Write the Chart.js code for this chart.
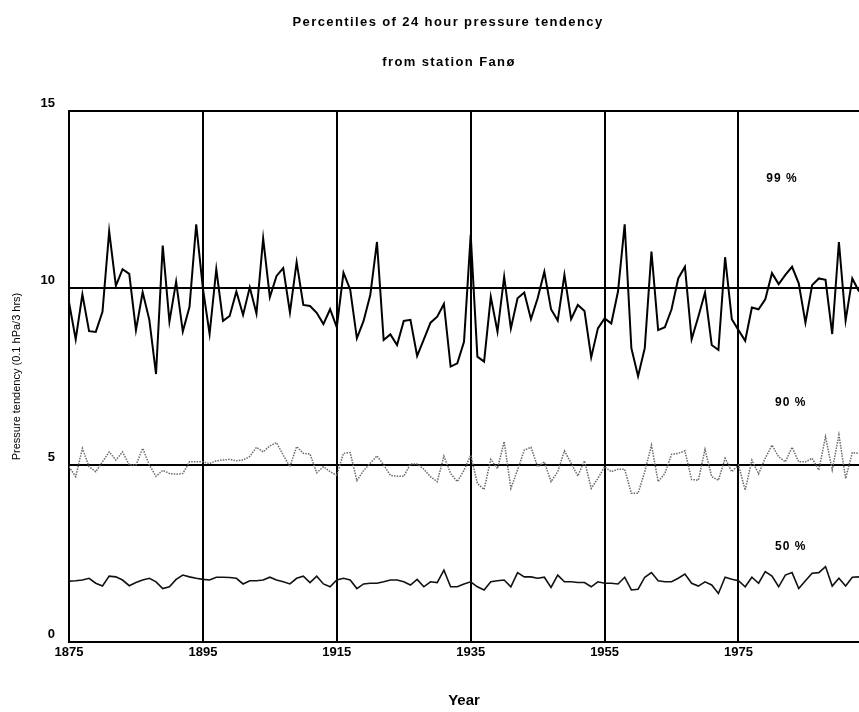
<!DOCTYPE html>
<html>
<head>
<meta charset="utf-8">
<title>Percentiles of 24 hour pressure tendency</title>
<script src="https://cdn.jsdelivr.net/npm/chart.js@4.4.0/dist/chart.umd.min.js"></script>
<style>
  html, body { margin: 0; padding: 0; background: #fff; }
  canvas { display: block; }
</style>
</head>
<body>
<canvas id="chart" width="859" height="712"></canvas>
<script>
// yearly values 1875–1993
const firstYear = 1875;
const lastYear = 1993;
const years = Array.from({ length: lastYear - firstYear + 1 }, (_, i) => firstYear + i);

const p99 = [
  9.6, 8.55, 9.82, 8.78, 8.76, 9.33, 11.6, 10.06, 10.53, 10.4,
  8.81, 9.88, 9.1, 7.57, 11.2, 9.05, 10.18, 8.77, 9.47, 11.8,
  9.99, 8.7, 10.53, 9.07, 9.21, 9.9, 9.24, 10.02, 9.28, 11.4,
  9.74, 10.34, 10.56, 9.31, 10.73, 9.52, 9.49, 9.3, 8.98, 9.4,
  8.89, 10.43, 9.96, 8.58, 9.07, 9.8, 11.3, 8.53, 8.69, 8.39,
  9.07, 9.1, 8.08, 8.55, 9.02, 9.19, 9.55, 7.78, 7.87, 8.48,
  11.5, 8.06, 7.92, 9.75, 8.77, 10.32, 8.86, 9.71, 9.87, 9.12,
  9.71, 10.46, 9.4, 9.08, 10.37, 9.12, 9.52, 9.35, 8.04, 8.86,
  9.14, 9.0, 9.9, 11.8, 8.3, 7.51, 8.3, 11.03, 8.81, 8.89,
  9.4, 10.27, 10.6, 8.55, 9.19, 9.87, 8.39, 8.25, 10.87, 9.12,
  8.81, 8.51, 9.45, 9.4, 9.68, 10.42, 10.11, 10.37, 10.6, 10.13,
  9.02, 10.08, 10.27, 10.23, 8.7, 11.3, 9.08, 10.27, 9.9
];

const p90 = [
  4.95, 4.67, 5.47, 4.95, 4.81, 5.09, 5.37, 5.14, 5.37, 5.0,
  5.0, 5.47, 5.0, 4.68, 4.85, 4.76, 4.74, 4.76, 5.09, 5.09,
  5.09, 5.04, 5.12, 5.14, 5.16, 5.12, 5.14, 5.24, 5.5, 5.37,
  5.54, 5.63, 5.28, 4.95, 5.52, 5.33, 5.31, 4.78, 4.95, 4.81,
  4.71, 5.33, 5.35, 4.56, 4.84, 5.05, 5.26, 5.0, 4.71, 4.68,
  4.68, 5.03, 5.03, 4.88, 4.67, 4.53, 5.25, 4.76, 4.53, 4.85,
  5.28, 4.48, 4.31, 5.16, 4.9, 5.66, 4.34, 4.86, 5.42, 5.5,
  4.95, 5.09, 4.53, 4.81, 5.4, 5.05, 4.69, 5.12, 4.34, 4.62,
  4.95, 4.81, 4.88, 4.88, 4.2, 4.2, 4.81, 5.56, 4.53, 4.76,
  5.3, 5.33, 5.4, 4.59, 4.57, 5.44, 4.67, 4.57, 5.19, 4.81,
  5.0, 4.29, 5.14, 4.75, 5.19, 5.56, 5.23, 5.09, 5.5, 5.09,
  5.09, 5.19, 4.86, 5.8, 4.86, 5.85, 4.62, 5.35, 5.33
];

const p50 = [
  1.72, 1.73, 1.75, 1.8, 1.66, 1.58, 1.86, 1.84, 1.75, 1.59,
  1.68, 1.75, 1.8, 1.7, 1.51, 1.56, 1.77, 1.89, 1.84, 1.8,
  1.77, 1.75, 1.83, 1.83, 1.82, 1.8, 1.64, 1.73, 1.73, 1.75,
  1.83, 1.75, 1.7, 1.64, 1.8, 1.86, 1.68, 1.86, 1.64, 1.56,
  1.75, 1.8, 1.75, 1.51, 1.64, 1.66, 1.66, 1.7, 1.75, 1.75,
  1.7, 1.61, 1.77, 1.56, 1.7, 1.68, 2.03, 1.56, 1.56, 1.64,
  1.7, 1.56, 1.47, 1.7, 1.73, 1.75, 1.56, 1.96, 1.84, 1.84,
  1.8, 1.83, 1.54, 1.89, 1.7, 1.7, 1.68, 1.68, 1.56, 1.7,
  1.66, 1.66, 1.64, 1.83, 1.47, 1.49, 1.83, 1.96, 1.73, 1.7,
  1.7, 1.8, 1.92, 1.66, 1.58, 1.7, 1.61, 1.37, 1.83, 1.77,
  1.73, 1.56, 1.83, 1.66, 1.99, 1.86, 1.56, 1.89, 1.96, 1.51,
  1.73, 1.94, 1.96, 2.13, 1.58, 1.8, 1.58, 1.83, 1.84
];

const xTicks = [1875, 1895, 1915, 1935, 1955, 1975];
const yTicks = [0, 5, 10, 15];
const seriesNames = ['99 %', '90 %', '50 %'];

const FONT = '"Liberation Sans", Arial, sans-serif';

// series names written inside the plot, anchored in data units
const nameAnchors = [
  { text: seriesNames[0], x: 1981.5, y: 13.1 },
  { text: seriesNames[1], x: 1982.8, y: 6.75 },
  { text: seriesNames[2], x: 1982.8, y: 2.68 },
];

const toPoints = (vals) => years.map((yr, i) => ({ x: yr, y: vals[i] }));

const textPlugin = {
  id: 'texts',
  afterDraw(chart) {
    const { ctx, scales } = chart;
    ctx.save();
    ctx.fillStyle = '#000';
    ctx.textAlign = 'center';
    ctx.textBaseline = 'middle';
    ctx.font = `bold 13px ${FONT}`;
    ctx.letterSpacing = '1.4px';
    ctx.fillText('Percentiles of 24 hour pressure tendency', 448, 22);
    ctx.fillText('from station Fanø', 449, 62);
    ctx.letterSpacing = '1px';
    ctx.font = `bold 12px ${FONT}`;
    nameAnchors.forEach((a) => {
      ctx.fillText(a.text, scales.x.getPixelForValue(a.x), scales.y.getPixelForValue(a.y));
    });
    ctx.restore();
  },
};

new Chart(document.getElementById('chart'), {
  type: 'line',
  data: {
    datasets: [
      { label: seriesNames[0], data: toPoints(p99), borderColor: '#000', borderWidth: 2 },
      { label: seriesNames[1], data: toPoints(p90), borderColor: '#6a6a6a', borderWidth: 1.5, borderDash: [1.5, 1.2] },
      { label: seriesNames[2], data: toPoints(p50), borderColor: '#111', borderWidth: 1.6 },
    ],
  },
  options: {
    responsive: false,
    animation: false,
    devicePixelRatio: 1,
    layout: { padding: { top: 111, left: 0, right: 0, bottom: 0 } },
    elements: { point: { radius: 0 }, line: { tension: 0 } },
    plugins: { legend: { display: false }, tooltip: { enabled: false } },
    scales: {
      x: {
        type: 'linear',
        min: firstYear,
        max: lastYear,
        afterBuildTicks: (axis) => { axis.ticks = xTicks.map((v) => ({ value: v })); },
        afterFit: (axis) => { axis.height = 70; },
        grid: { color: '#000', lineWidth: 2, drawTicks: false },
        border: { color: '#000', width: 2 },
        ticks: {
          color: '#000',
          padding: 3,
          maxRotation: 0,
          autoSkip: false,
          font: { family: FONT, size: 13, weight: 'bold' },
          callback: (v) => String(v),
        },
        title: {
          display: true,
          text: 'Year',
          color: '#000',
          font: { family: FONT, size: 15, weight: 'bold' },
          padding: { top: 0, bottom: 2 },
        },
      },
      y: {
        min: 0,
        max: 15,
        afterBuildTicks: (axis) => { axis.ticks = yTicks.map((v) => ({ value: v })); },
        afterFit: (axis) => { axis.width = 69; },
        grid: { color: '#000', lineWidth: 2, drawTicks: false },
        border: { color: '#000', width: 2 },
        ticks: {
          color: '#000',
          padding: 14,
          labelOffset: -8,
          font: { family: FONT, size: 13, weight: 'bold' },
        },
        title: {
          display: true,
          text: 'Pressure tendency (0.1 hPa/3 hrs)',
          color: '#000',
          font: { family: FONT, size: 11 },
          padding: { top: 10, bottom: 0 },
        },
      },
    },
  },
  plugins: [textPlugin],
});
</script>
</body>
</html>
